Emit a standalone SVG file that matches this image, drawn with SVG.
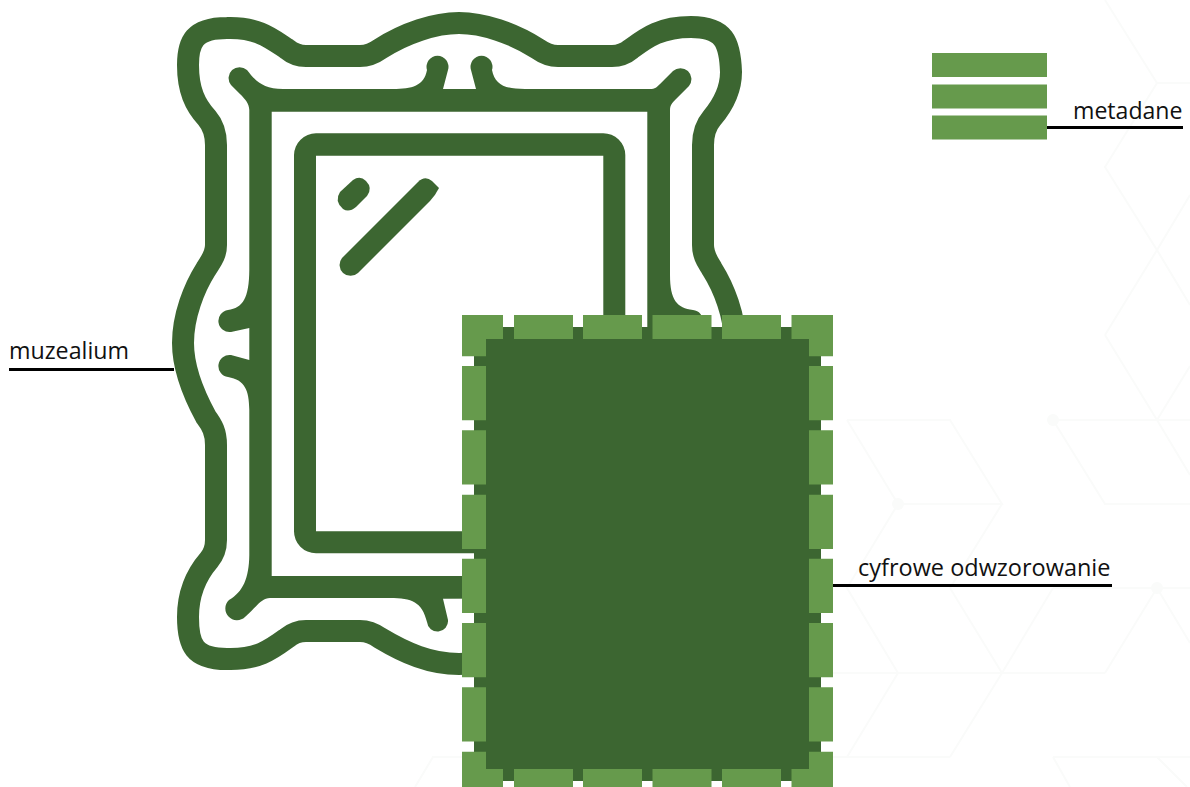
<svg xmlns="http://www.w3.org/2000/svg" width="1190" height="787" viewBox="0 0 1190 787">
<style>
.hex{fill:none;stroke:#fafbfa;stroke-width:2}
.hexdot{fill:#fafbfa}
.dark{fill:#3c6631}
.light{fill:#669a4c}
.lead{fill:none;stroke:#000;stroke-width:3.2}
text{font-family:"Open Sans","Liberation Sans",sans-serif;font-size:23.400px;fill:#111}
</style>
<rect width="1190" height="787" fill="#fff"/>
<g id="background">
<path class="hex" d="M1105,0L1157,83H1190M1157,83L1105,167L1157,250L1190,195M1157,250L1190,305M1105,335L1157,250M1105,335L1157,420L1190,475M1157,420L1190,366M847,420H950L1002,504H898L847,420M898,504L847,588L898,673M1002,504L950,588M1053,420H1190M1053,420L1105,504H1190M1053,588L1002,673M1053,588H1190M1157,588L1105,673M1157,588L1190,643M950,588L1002,673M833,673H1105M1002,673L950,757M898,673L847,757M833,757H950M1053,757H1190M1053,757L1070,787M1157,757L1187,787M415,787L433,757H462"/>
<circle class="hexdot" cx="898" cy="504" r="6"/>
<circle class="hexdot" cx="1053" cy="420" r="6"/>
<circle class="hexdot" cx="1157" cy="588" r="6"/>
</g>
<g id="muzealium">
<path fill="none" stroke="#3c6631" stroke-width="22" d="M227,28C258,27 272,39 287,49C293,54 298,56 306,56L360,56C368,56 373,54 380,49C405,33 435,23 459,23C483,23 513,33 538,49C545,54 550,56 558,56L612,56C620,56 625,54 631,49C646,38 660,27 691,27C724,27 730,42 731,72C731,90 723,105 712,118C706,125 703,133 703,145L703,245C703,256 708,262 712,269C724,288 735,316 735,343C735,370 724,395 712,417C706,425 703,432 703,445L702,540C702,548 704,554 709,560C722,575 730,595 730,617C730,650 718,659 691,659C665,659 646,650 631,638C625,633 620,631 612,631L558,631C550,631 545,633 538,638C513,653 490,664 459,664C430,664 405,653 380,638C373,633 368,631 360,631L306,631C298,631 293,633 287,638C272,649 258,660 227,659C194,659 188,645 188,617C188,595 196,575 209,560C214,554 216,548 216,540L216,445C216,432 212,425 206,417C194,395 183,370 183,343C183,316 194,288 206,269C210,262 216,256 216,245L216,145C216,133 213,125 207,118C195,105 188,90 188,65C188,42 194,28 227,28Z"/>
<path class="dark" fill-rule="evenodd" d="M249.300,110C249,103 245,99 240,94L231,85A11,11 0 0 1 247,70C254,79 262,89 283,89L393,89C412,89 424,86 427,70A11,11 0 1 1 448,70L443,89L476,89L471,70A11,11 0 1 1 492,70C495,85 505,89 525,89L650,89C655,89 657,87 660,84L673,71A11,11 0 0 1 689,86L676,99C672,103 670,105 670,110L670,275C670,300 677,308 693,310A11,11 0 0 1 691,332L670,328L670,598L443,598.800L448,620A10.500,10.500 0 0 1 427,622C422,602 412,598 390,598L270,598C262,598 258,605 245,617A11,11 0 0 1 229,600C243,592 249,578 249.300,555L249.300,410C249,390 245,380 228,377A11,11 0 0 1 231,355L249.300,360L249.300,328L231,332A11,11 0 0 1 228,310C243,308 249,298 249.300,270ZM271.700,111.700H647.300V576H271.700Z"/>
<path class="dark" fill-rule="evenodd" d="M294,155A22,22 0 0 1 316,133.300H603A22,22 0 0 1 625.300,155V531A22,22 0 0 1 603,553.300H316A22,22 0 0 1 294,531ZM316,155.700V531.300H603.300V155.700Z"/>
<path class="dark" d="M340,192L353,180Q360,175 366,181Q373,188 367,196L356,207Q349,213 343,209Q334,201 340,192Z"/>
<path class="dark" d="M342,258L418,182Q425,175 432,181L439,188Q435,196 430,201L358,273A11,11 0 0 1 342,258Z"/>
</g>
<g id="cyfrowe-odwzorowanie">
<rect class="dark" x="474" y="327" width="347" height="454"/>
<path class="light" d="M462,315H503V339H486V356.300H462ZM791.500,315H833V356.300H809V339H791.500ZM462,751.700H486V769H503V787H462ZM809,751.700H833V787H791.500V769H809Z"/>
<path class="light" d="M514,315h59v24h-59zM583,315h59v24h-59zM652.500,315h59v24h-59zM722,315h59v24h-59zM514,769h59v18h-59zM583,769h59v18h-59zM652.500,769h59v18h-59zM722,769h59v18h-59z"/>
<path class="light" d="M462,366h24v54.300h-24zM462,430.300h24v54.300h-24zM462,494.700h24v54.300h-24zM462,558.700h24v54.300h-24zM462,623h24v54.300h-24zM462,687.300h24v54.300h-24zM809,366h24v54.300h-24zM809,430.300h24v54.300h-24zM809,494.700h24v54.300h-24zM809,558.700h24v54.300h-24zM809,623h24v54.300h-24zM809,687.300h24v54.300h-24z"/>
</g>
<g id="metadane">
<rect class="light" x="932" y="53" width="115" height="24"/>
<rect class="light" x="932" y="84.500" width="115" height="24"/>
<rect class="light" x="932" y="115.500" width="115" height="24"/>
</g>
<g id="connectors">
<path class="lead" d="M1047,127.500H1183"/>
<path class="lead" d="M9,369.500H174"/>
<path class="lead" d="M833,585.500H1112"/>
</g>
<g id="labels">
<text x="1073" y="119" textLength="109.500" lengthAdjust="spacingAndGlyphs">metadane</text>
<text x="9" y="359" textLength="120" lengthAdjust="spacingAndGlyphs">muzealium</text>
<text x="858" y="576" textLength="252.500" lengthAdjust="spacingAndGlyphs">cyfrowe odwzorowanie</text>
</g>
</svg>
